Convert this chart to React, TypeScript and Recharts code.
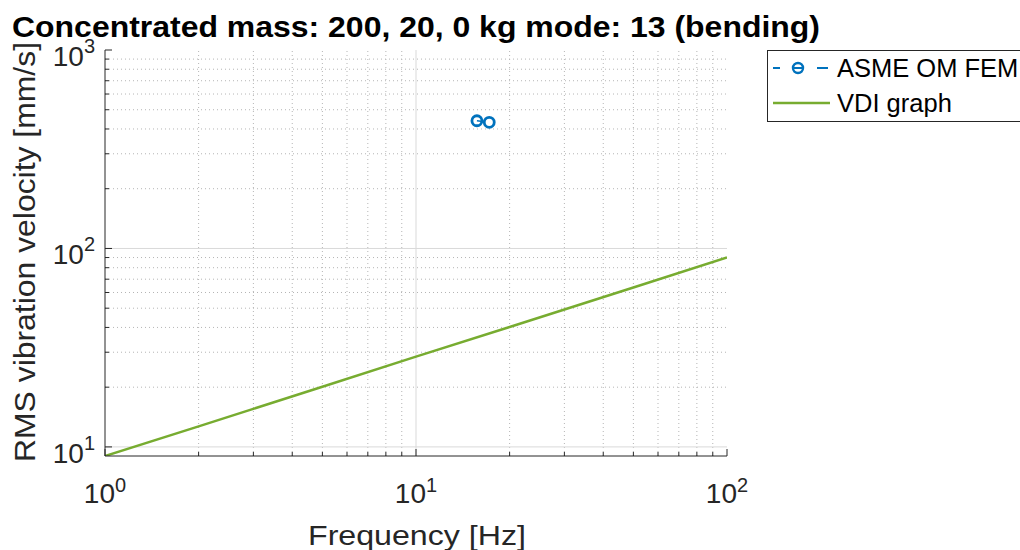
import { LineChart, Line, XAxis, YAxis, ReferenceLine, Legend } from 'recharts';

// tick positions (log axes)
const FREQ_TICKS = [1, 2, 3, 4, 5, 6, 7, 8, 9, 10, 20, 30, 40, 50, 60, 70, 80, 90, 100];
const FREQ_MAJOR = [1, 10, 100];
const VEL_TICKS = [10, 20, 30, 40, 50, 60, 70, 80, 90, 100, 200, 300, 400, 500, 600, 700, 800, 900, 1000];
const VEL_MAJOR = [10, 100, 1000];

// ASME OM FEM points
const asmeFreq = [15.7, 17.2];
const asmeVel = [440, 432];

// VDI graph
const vdiFreq = [1, 2, 5, 10, 20, 50, 100];
const vdiVel = [9, 12.7, 20.1, 28.5, 40.2, 63.6, 90];

const asmeData = asmeFreq.map((f, i) => ({ f, v: asmeVel[i] }));
const vdiData = vdiFreq.map((f, i) => ({ f, v: vdiVel[i] }));

const AXIS = '#262626';
const BLUE = '#0072BD';
const GREEN = '#77AC30';
const FONT = '"Liberation Sans", Arial, Helvetica, sans-serif';

const exp10 = (v: number) => String(Math.round(Math.log10(v)));

function BottomTick(props: any) {
  const { x, y, payload } = props;
  const major = FREQ_MAJOR.includes(payload.value);
  return (
    <g>
      <line x1={x} x2={x} y1={y} y2={y - (major ? 7 : 4)} stroke={AXIS} />
      {major && (
        <text x={x} y={y + 47} textAnchor="middle" fill={AXIS} fontSize={28} fontFamily={FONT}>
          10<tspan dy={-11} fontSize={20}>{exp10(payload.value)}</tspan>
        </text>
      )}
    </g>
  );
}

function TopTick(props: any) {
  const { x, y, payload } = props;
  const major = FREQ_MAJOR.includes(payload.value);
  return <line x1={x} x2={x} y1={y} y2={y + (major ? 7 : 4)} stroke={AXIS} />;
}

function LeftTick(props: any) {
  const { x, y, payload } = props;
  const major = VEL_MAJOR.includes(payload.value);
  return (
    <g>
      <line x1={x} x2={x + (major ? 7 : 4)} y1={y} y2={y} stroke={AXIS} />
      {major && (
        <text x={x - 10} y={y + 16} textAnchor="end" fill={AXIS} fontSize={28} fontFamily={FONT}>
          10<tspan dy={-13} fontSize={20}>{exp10(payload.value)}</tspan>
        </text>
      )}
    </g>
  );
}

function RightTick(props: any) {
  const { x, y, payload } = props;
  const major = VEL_MAJOR.includes(payload.value);
  return <line x1={x} x2={x - (major ? 7 : 4)} y1={y} y2={y} stroke={AXIS} />;
}

function LegendBox() {
  return (
    <svg width={270} height={73} style={{ display: 'block' }}>
      <rect x={0.5} y={0.5} width={300} height={71} fill="#fff" stroke={AXIS} />
      <line x1={6} x2={13} y1={18} y2={18} stroke={BLUE} strokeWidth={2} />
      <line x1={27} x2={35} y1={18} y2={18} stroke={BLUE} strokeWidth={2} />
      <line x1={50} x2={61} y1={18} y2={18} stroke={BLUE} strokeWidth={2} />
      <circle cx={31} cy={18} r={5} fill="none" stroke={BLUE} strokeWidth={2.4} />
      <text x={70} y={27} fontSize={25.5} fill="#000" fontFamily={FONT}>ASME OM FEM</text>
      <line x1={6} x2={63} y1={53} y2={53} stroke={GREEN} strokeWidth={2.5} />
      <text x={70} y={62} fontSize={25.5} fill="#000" fontFamily={FONT}>VDI graph</text>
    </svg>
  );
}

const minorX = FREQ_TICKS.filter((v) => !FREQ_MAJOR.includes(v));
const minorY = VEL_TICKS.filter((v) => !VEL_MAJOR.includes(v));

export default function App() {
  return (
    <div style={{ position: 'absolute', left: 0, top: 0, width: 1020, height: 550, overflow: 'hidden', background: '#fff', fontFamily: FONT }}>
      <LineChart width={1020} height={550} margin={{ top: 50, right: 293, bottom: 34, left: 45 }}>
        <XAxis
          dataKey="f" type="number" scale="log" domain={[1, 100]} allowDataOverflow
          ticks={FREQ_TICKS} interval={0} tick={<BottomTick />} tickLine={false} tickSize={0} tickMargin={0}
          axisLine={{ stroke: AXIS }} height={60}
        />
        <XAxis
          xAxisId="top" orientation="top" dataKey="f" type="number" scale="log" domain={[1, 100]} allowDataOverflow
          ticks={FREQ_TICKS} interval={0} tick={<TopTick />} tickLine={false} tickSize={0} tickMargin={0}
          axisLine={{ stroke: AXIS }} height={0}
        />
        <YAxis
          dataKey="v" type="number" scale="log" domain={[9, 1000]} allowDataOverflow
          ticks={VEL_TICKS} interval={0} tick={<LeftTick />} tickLine={false} tickSize={0} tickMargin={0}
          axisLine={{ stroke: AXIS }} width={60}
        />
        <YAxis
          yAxisId="right" orientation="right" dataKey="v" type="number" scale="log" domain={[9, 1000]} allowDataOverflow
          ticks={VEL_TICKS} interval={0} tick={<RightTick />} tickLine={false} tickSize={0} tickMargin={0}
          axisLine={{ stroke: AXIS }} width={0}
        />
        {minorX.map((v) => (
          <ReferenceLine key={'mx' + v} x={v} stroke="#b5b5b5" strokeDasharray="1 3" />
        ))}
        {minorY.map((v) => (
          <ReferenceLine key={'my' + v} y={v} stroke="#b5b5b5" strokeDasharray="1 3" />
        ))}
        <ReferenceLine x={10} stroke="#d9d9d9" />
        <ReferenceLine y={10} stroke="#d9d9d9" />
        <ReferenceLine y={100} stroke="#d9d9d9" />
        <Line data={vdiData} dataKey="v" name="VDI graph" stroke={GREEN} strokeWidth={2.5} dot={false} isAnimationActive={false} />
        <Line
          data={asmeData} dataKey="v" name="ASME OM FEM" stroke={BLUE} strokeWidth={1.5} strokeDasharray="8 5"
          dot={{ r: 5, stroke: BLUE, strokeWidth: 2.8, fill: 'none', strokeDasharray: 'none' }} isAnimationActive={false}
        />
        <Legend
          layout="horizontal" verticalAlign="middle" align="center" content={<LegendBox />}
          wrapperStyle={{ position: 'absolute', left: 767, top: 50, width: 270, height: 73 }}
        />
      </LineChart>
      <svg width={1020} height={550} style={{ position: 'absolute', left: 0, top: 0, pointerEvents: 'none' }}>
        <text x={12} y={37} fontSize={29} fontWeight="bold" fill="#000" fontFamily={FONT} textLength={808} lengthAdjust="spacingAndGlyphs">
          Concentrated mass: 200, 20, 0 kg mode: 13 (bending)
        </text>
        <text x={417} y={545} fontSize={28} fill={AXIS} fontFamily={FONT} textAnchor="middle" textLength={218} lengthAdjust="spacingAndGlyphs">
          Frequency [Hz]
        </text>
        <text transform="translate(35,252) rotate(-90)" fontSize={29} fill={AXIS} fontFamily={FONT} textAnchor="middle" textLength={420} lengthAdjust="spacingAndGlyphs">
          RMS vibration velocity [mm/s]
        </text>
      </svg>
    </div>
  );
}
